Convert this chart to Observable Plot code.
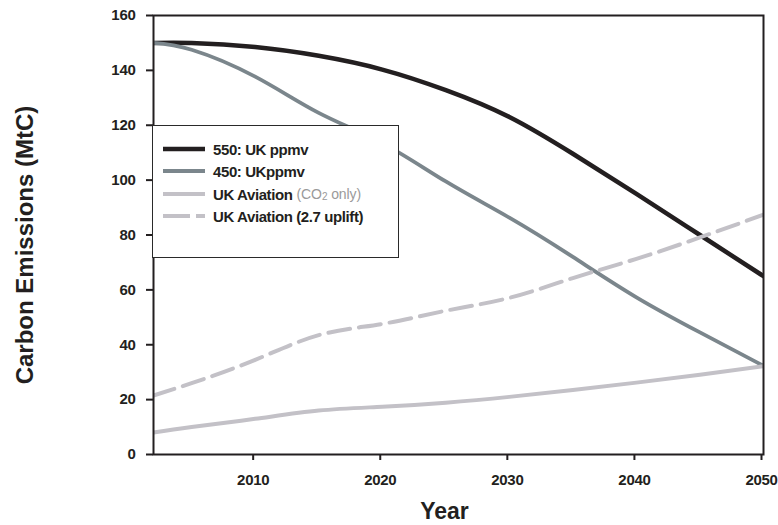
<!DOCTYPE html>
<html><head><meta charset="utf-8">
<script src="https://cdn.jsdelivr.net/npm/d3@7"></script>
<script src="https://cdn.jsdelivr.net/npm/@observablehq/plot@0.6"></script>
<style>
body{margin:0;background:#fff;font-family:"Liberation Sans",Arial,sans-serif;}
#wrap{position:relative;width:778px;height:525px;overflow:hidden;}
#legend{position:absolute;left:152px;top:125px;width:247px;height:133px;background:#fff;border:1px solid #2a2a2a;box-sizing:border-box;}
.row{position:absolute;left:10px;height:20px;display:flex;align-items:center;font-weight:bold;font-size:15px;color:#231f20;letter-spacing:-0.4px;white-space:nowrap;}
.row svg{margin-right:8px;}
.light{font-weight:normal;color:#9a9a9a;font-size:14px;letter-spacing:-0.1px;margin-left:4px;}
g[aria-label="x-axis tick label"] text, g[aria-label="y-axis tick label"] text{letter-spacing:-0.3px;}
</style></head><body><div id="wrap"></div>
<script>
// ---- data ----
const years = [2002, 2005, 2010, 2015, 2020, 2025, 2030, 2035, 2040, 2045, 2050];
const uk550 = [150, 150, 148.5, 145.3, 140.3, 132.8, 123, 109.6, 95, 80, 65];
const uk450 = [150, 147.5, 137.7, 124.5, 113.5, 99.5, 86.3, 72, 57.3, 44.5, 32.3];
const aviationCO2 = [8, 10, 13, 16, 17.4, 18.9, 21, 23.5, 26.2, 29.1, 32.2];
const aviationUplift = [21.5, 26, 34.5, 43.5, 47.6, 52.4, 57.1, 64.3, 71.3, 79.1, 87.4];
const xTicks = [2010, 2020, 2030, 2040, 2050];
const yTicks = [0, 20, 40, 60, 80, 100, 120, 140, 160];
const seriesNames = ["550: UK ppmv", "450: UKppmv", "UK Aviation", "UK Aviation (2.7 uplift)"];

const series = [
  {name: seriesNames[0], values: uk550, color: "#231f20", width: 4.5, dash: null},
  {name: seriesNames[1], values: uk450, color: "#7b868c", width: 3.8, dash: null},
  {name: seriesNames[2], values: aviationCO2, color: "#c3c1c7", width: 4, dash: null},
  {name: seriesNames[3], values: aviationUplift, color: "#c3c1c7", width: 4, dash: "22,9"}
];
const rows = series.flatMap(s => years.map((y, i) => ({series: s.name, year: y, value: s.values[i]})));

const ink = "#231f20";
const chart = Plot.plot({
  width: 778,
  height: 525,
  marginLeft: 153,
  marginRight: 15,
  marginTop: 15,
  marginBottom: 71,
  style: {fontFamily: '"Liberation Sans", Arial, sans-serif', background: "#fff", color: ink},
  x: {domain: [2002, 2050]},
  y: {domain: [0, 160]},
  marks: [
    ...series.map(s => Plot.line(rows.filter(r => r.series === s.name), {
      x: "year", y: "value", stroke: s.color, strokeWidth: s.width,
      strokeDasharray: s.dash, curve: "natural", clip: true
    })),
    Plot.frame({stroke: ink, strokeWidth: 2}),
    Plot.axisY({ticks: yTicks, tickSize: 7, tickPadding: 11, label: null, fontSize: 15, fontWeight: "bold", strokeWidth: 2, stroke: ink, fill: ink}),
    Plot.axisX({ticks: xTicks, tickFormat: d => String(d), tickSize: 6, tickPadding: 14, dx: -2, label: null, fontSize: 15, fontWeight: "bold", strokeWidth: 2, stroke: ink, fill: ink}),
    Plot.text(["Carbon Emissions (MtC)"], {frameAnchor: "left", textAnchor: "middle", lineAnchor: "middle", rotate: -90, dx: -128, dy: 10, fontSize: 24, fontWeight: "bold", fill: ink}),
    Plot.text(["Year"], {frameAnchor: "bottom", textAnchor: "middle", lineAnchor: "middle", dx: -14, dy: 57, fontSize: 23, fontWeight: "bold", fill: ink})
  ]
});
const wrap = document.getElementById("wrap");
wrap.appendChild(chart);

// ---- legend (inside plot area, as in reference) ----
const legend = document.createElement("div");
legend.id = "legend";
const rowTops = [13, 35, 58, 80];
series.forEach((s, i) => {
  const row = document.createElement("div");
  row.className = "row";
  row.style.top = rowTops[i] + "px";
  const sw = d3.create("svg").attr("width", 42).attr("height", 8);
  sw.append("line").attr("x1", 0).attr("x2", 42).attr("y1", 4).attr("y2", 4)
    .attr("stroke", s.color).attr("stroke-width", s.width)
    .attr("stroke-dasharray", s.dash ? "27,6" : null);
  row.appendChild(sw.node());
  const label = document.createElement("span");
  label.textContent = s.name;
  row.appendChild(label);
  if (i === 2) {
    const extra = document.createElement("span");
    extra.className = "light";
    extra.innerHTML = "(CO<sub style='font-size:10px;vertical-align:-1px'>2</sub> only)";
    row.appendChild(extra);
  }
  legend.appendChild(row);
});
wrap.appendChild(legend);
</script>
</body></html>
